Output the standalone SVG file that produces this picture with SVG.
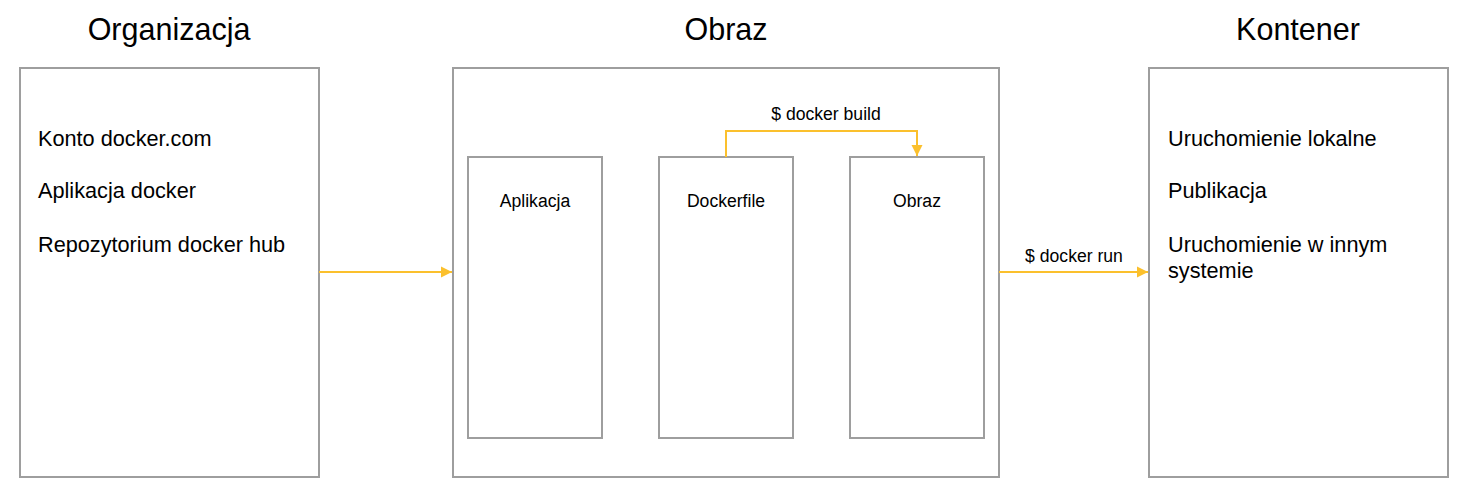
<svg xmlns="http://www.w3.org/2000/svg" width="1464" height="490" viewBox="0 0 1464 490">
<style>
.box{fill:#fff;stroke:#9e9e9e;stroke-width:2}
.t{font-family:"Liberation Sans",Arial,sans-serif;fill:#000}
.title{font-size:30.5px;text-anchor:middle}
.item{font-size:21.7px}
.lbl{font-size:17.6px;text-anchor:middle}
.conn{fill:none;stroke:#fbc02d;stroke-width:2}
</style>
<defs>
<marker id="ah" markerWidth="12" markerHeight="12" refX="11" refY="6" orient="auto" markerUnits="userSpaceOnUse">
<path d="M0,0.5 L11,6 L0,11.5 Z" fill="#fbc02d"/>
</marker>
</defs>
<rect width="1464" height="490" fill="#fff"/>
<g id="organizacja">
<text class="t title" x="169" y="40">Organizacja</text>
<rect class="box" x="20" y="68" width="299" height="409"/>
<text class="t item" x="38" y="146">Konto docker.com</text>
<text class="t item" x="38" y="198">Aplikacja docker</text>
<text class="t item" x="38" y="252">Repozytorium docker hub</text>
</g>
<g id="obraz-group">
<text class="t title" x="726" y="40">Obraz</text>
<rect class="box" x="453" y="68" width="546" height="409"/>
</g>
<g id="aplikacja">
<rect class="box" x="468" y="157" width="134" height="281"/>
<text class="t lbl" x="535" y="207">Aplikacja</text>
</g>
<g id="dockerfile">
<rect class="box" x="659" y="157" width="134" height="281"/>
<text class="t lbl" x="726" y="207">Dockerfile</text>
</g>
<g id="obraz">
<rect class="box" x="850" y="157" width="134" height="281"/>
<text class="t lbl" x="917" y="207">Obraz</text>
</g>
<g id="kontener">
<text class="t title" x="1298" y="40">Kontener</text>
<rect class="box" x="1149" y="68" width="299" height="409"/>
<text class="t item" x="1168" y="146">Uruchomienie lokalne</text>
<text class="t item" x="1168" y="198">Publikacja</text>
<text class="t item" x="1168" y="252">Uruchomienie w innym</text>
<text class="t item" x="1168" y="278">systemie</text>
</g>
<g id="connectors">
<line class="conn" x1="319" y1="272" x2="452" y2="272" marker-end="url(#ah)"/>
<polyline class="conn" points="726,157 726,131 917,131 917,156" marker-end="url(#ah)"/>
<text class="t lbl" x="826" y="120">$ docker build</text>
<line class="conn" x1="999" y1="272" x2="1148" y2="272" marker-end="url(#ah)"/>
<text class="t lbl" x="1074" y="262">$ docker run</text>
</g>
</svg>
